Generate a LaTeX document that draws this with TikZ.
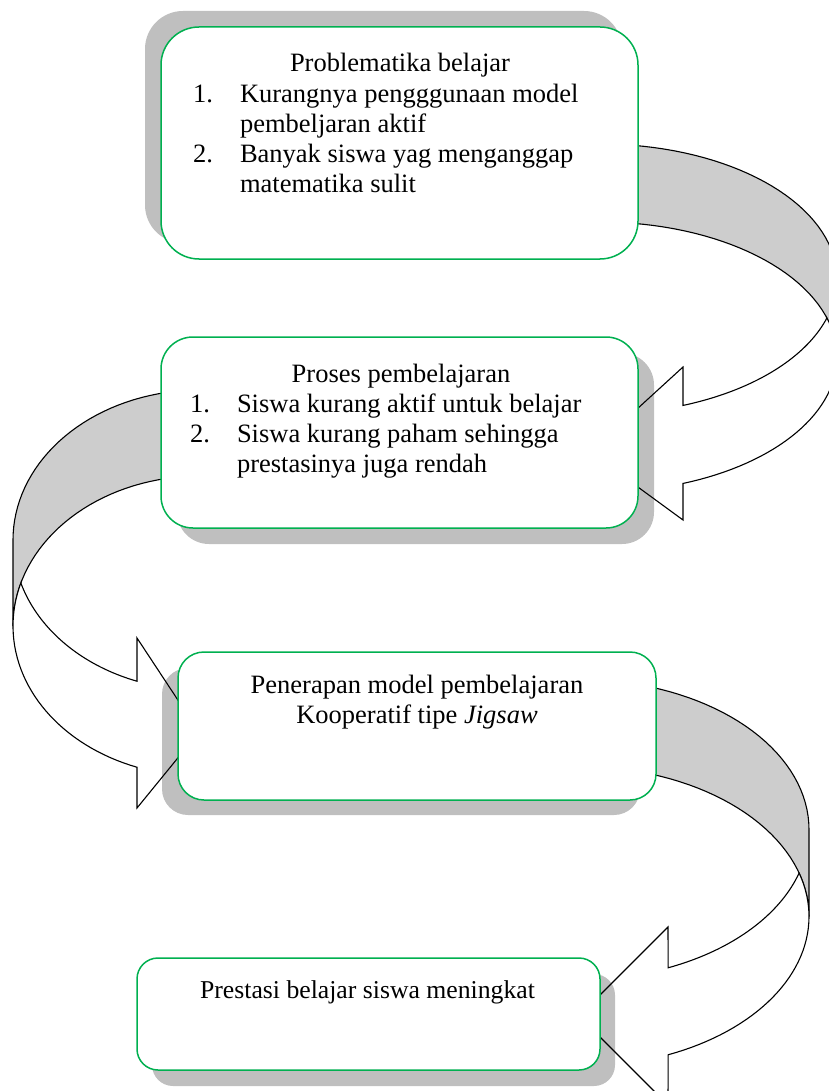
\documentclass[tikz,border=0pt]{standalone}
\usepackage{fontspec}
\setmainfont{Liberation Serif}
\definecolor{boxgreen}{RGB}{0,176,80}
\definecolor{ribbon}{RGB}{205,205,205}
\begin{document}
\begin{tikzpicture}[x=1pt,y=-1pt,
  box/.style={draw=boxgreen, line width=1.5pt, fill=white, rectangle, inner sep=0pt, outer sep=0pt},
  shade/.style={fill=black, fill opacity=0.25},
  band/.style={draw=black, line width=1.1pt, line join=miter},
  backband/.style={band, fill=ribbon},
  frontband/.style={band, fill=white},
  txt/.style={inner sep=0pt, outer sep=0pt, font=\fontsize{26.5}{30}\selectfont},
  txtsmall/.style={inner sep=0pt, outer sep=0pt, font=\fontsize{25.7}{30}\selectfont},
  arcp/.style={samples=40, variable=\t}]
\useasboundingbox (0,0) rectangle (828,1091);

% ---------- arrow 1 (box 1 -> box 2), right side ----------
\filldraw[backband] plot[arcp, domain=-100:0] ({600+237*cos(\t)},{279+135*sin(\t)})
  -- plot[arcp, domain=0:-100] ({600+237*cos(\t)},{357+135*sin(\t)}) -- cycle;
\filldraw[frontband] plot[arcp, domain=16.8:69.5] ({600+237*cos(\t)},{279+135*sin(\t)})
  -- (683,367) -- (590,452) -- (683,520)
  -- plot[arcp, domain=69.5:-16.8] ({600+237*cos(\t)},{357+135*sin(\t)}) -- cycle;

% ---------- box 1 ----------
\fill[shade, rounded corners=38pt] (145,11) rectangle (622,243);
\node[box, rounded corners=38pt, minimum width=477pt, minimum height=232pt] (b1) at (399.5,143) {};

% ---------- arrow 2 (box 2 -> box 3), left side ----------
\filldraw[backband] plot[arcp, domain=280:180] ({200+187*cos(\t)},{540+150*sin(\t)})
  -- plot[arcp, domain=180:280] ({200+187*cos(\t)},{626+150*sin(\t)}) -- cycle;
\filldraw[frontband] plot[arcp, domain=163.3:109.7] ({200+187*cos(\t)},{540+150*sin(\t)})
  -- (137,638) -- (199,732) -- (137,808)
  -- plot[arcp, domain=109.7:196.7] ({200+187*cos(\t)},{626+150*sin(\t)}) -- cycle;

% ---------- box 2 ----------
\fill[shade, rounded corners=32pt] (177,353) rectangle (654,544);
\node[box, rounded corners=32pt, minimum width=477pt, minimum height=191pt] (b2) at (399.5,432.5) {};

% ---------- arrow 3 (box 3 -> box 4), right side ----------
\filldraw[backband] plot[arcp, domain=-100:0] ({579+230*cos(\t)},{829.5+150*sin(\t)})
  -- plot[arcp, domain=0:-100] ({579+230*cos(\t)},{916.5+150*sin(\t)}) -- cycle;
\filldraw[frontband] plot[arcp, domain=16.86:67.2] ({579+230*cos(\t)},{829.5+150*sin(\t)})
  -- (668,927) -- (579,1016) -- (668,1105)
  -- plot[arcp, domain=67.2:-16.86] ({579+230*cos(\t)},{916.5+150*sin(\t)}) -- cycle;

% ---------- box 3 ----------
\fill[shade, rounded corners=26pt] (162,668) rectangle (640,815);
\node[box, rounded corners=26pt, minimum width=478pt, minimum height=148pt] (b3) at (417,726) {};

% ---------- box 4 ----------
\fill[shade, rounded corners=21pt] (152,974) rectangle (615,1086);
\node[box, rounded corners=21pt, minimum width=463pt, minimum height=112pt] (b4) at (368.5,1014) {};

% ---------- texts ----------
\node[txt, anchor=base] (t1h) at (400,72) {Problematika belajar};
\node[txt, anchor=base west] (t1n1) at (193,103) {1.};
\node[txt, anchor=base west] (t1a) at (240,103) {Kurangnya pengggunaan model};
\node[txt, anchor=base west] (t1b) at (240,133) {pembeljaran aktif};
\node[txt, anchor=base west] (t1n2) at (193,163) {2.};
\node[txt, anchor=base west] (t1c) at (240,163) {Banyak siswa yag menganggap};
\node[txt, anchor=base west] (t1d) at (240,193) {matematika sulit};

\node[txt, anchor=base] (t2h) at (401,382) {Proses pembelajaran};
\node[txt, anchor=base west] (t2n1) at (190,412) {1.};
\node[txt, anchor=base west] (t2a) at (237,412) {Siswa kurang aktif untuk belajar};
\node[txt, anchor=base west] (t2n2) at (190,442) {2.};
\node[txt, anchor=base west] (t2b) at (237,442) {Siswa kurang paham sehingga};
\node[txt, anchor=base west] (t2c) at (237,472) {prestasinya juga rendah};

\node[txt, anchor=base] (t3a) at (417,693) {Penerapan model pembelajaran};
\node[txt, anchor=base] (t3b) at (417,723) {Kooperatif tipe \textit{Jigsaw}};

\node[txtsmall, anchor=base] (t4) at (367.5,998) {Prestasi belajar siswa meningkat};
\end{tikzpicture}
\end{document}
